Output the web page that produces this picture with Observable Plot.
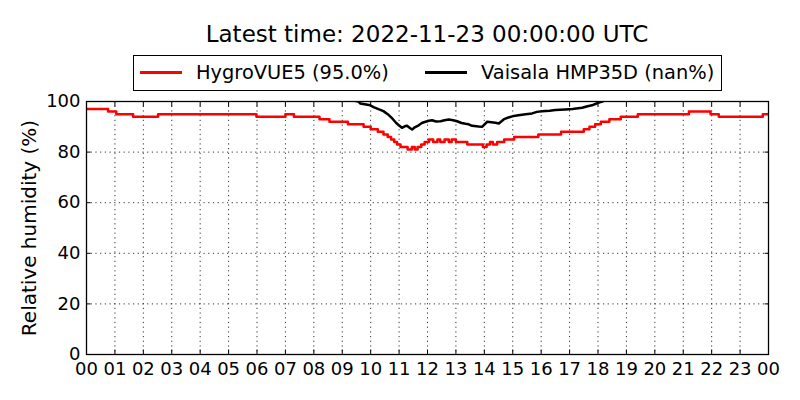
<!DOCTYPE html>
<html>
<head>
<meta charset="utf-8">
<script src="https://cdn.jsdelivr.net/npm/d3@7"></script>
<script src="https://cdn.jsdelivr.net/npm/@observablehq/plot@0.6"></script>
<style>
  html, body { margin: 0; padding: 0; background: #fff; }
  #wrap { position: relative; width: 800px; height: 400px; font-family: "DejaVu Sans", sans-serif; color: #000; }
  #title { position: absolute; left: 86px; width: 682px; top: 23px; text-align: center; font-size: 23px; line-height: 23px; white-space: nowrap; }
  #legend { position: absolute; left: 133px; top: 55px; width: 587px; height: 34px; border: 1px solid #000; background: #fff; box-sizing: content-box; z-index: 2; }
  .lg-line { position: absolute; top: 14.5px; width: 42px; height: 3px; }
  .lg-text { position: absolute; top: 6.5px; font-size: 19.4px; line-height: 19.4px; white-space: nowrap; }
  #ylabel { position: absolute; left: -121px; top: 217.5px; width: 300px; height: 20px; line-height: 20px; font-size: 20px; text-align: center; transform: rotate(-90deg); white-space: nowrap; }
  #chart { position: absolute; left: 0; top: 0; }
</style>
</head>
<body>
<div id="wrap">
  <div id="chart"></div>
  <div id="title"></div>
  <div id="legend"></div>
  <div id="ylabel"></div>
</div>
<script>
// ---- data ----
const titleText = "Latest time: 2022-11-23 00:00:00 UTC";
const yLabel = "Relative humidity (%)";
const seriesNames = ["HygroVUE5 (95.0%)", "Vaisala HMP35D (nan%)"];
const seriesColors = ["red", "black"];
const hourTicks = d3.range(0, 25);
const yTicks = [0, 20, 40, 60, 80, 100];

// HygroVUE5: [hour, RH] change points (stepped)
const hygro = [
  [0, 97], [0.76, 96], [1.05, 95], [1.64, 94], [2.52, 95], [5.98, 94], [7.0, 95], [7.3, 94],
  [8.2, 93], [8.55, 92], [9.2, 91], [9.75, 90], [10.0, 89], [10.25, 88], [10.45, 87],
  [10.6, 86], [10.72, 85], [10.83, 84], [10.93, 83], [11.05, 82], [11.3, 81], [11.45, 82],
  [11.55, 81], [11.65, 82], [11.78, 83], [11.9, 84], [12.05, 85], [12.2, 84], [12.35, 85],
  [12.45, 84], [12.6, 85], [12.75, 84], [12.85, 85], [13.0, 84], [13.4, 83], [13.95, 82],
  [14.08, 83], [14.2, 84], [14.3, 83], [14.45, 84], [14.7, 85], [15.05, 86], [15.9, 87],
  [16.7, 88], [17.5, 89], [17.7, 90], [17.9, 91], [18.1, 92], [18.4, 93], [18.8, 94],
  [19.4, 95], [21.2, 96], [21.96, 95], [22.25, 94], [23.8, 95], [24, 95]
];

// Vaisala HMP35D: [hour, RH] (values above 100 are clipped by the axes)
const vaisala = [
  [9.3, 100.6], [9.57, 100], [9.64, 99.2], [9.99, 98.5], [10.1, 97.8], [10.23, 97.2],
  [10.45, 96.2], [10.6, 95], [10.76, 93.3], [10.9, 91.5], [10.99, 90.6], [11.1, 89.6],
  [11.2, 90.2], [11.28, 90.4], [11.38, 89.5], [11.46, 88.9], [11.55, 89.8], [11.69, 90.6],
  [11.8, 91.5], [11.93, 92], [12.05, 92.4], [12.16, 92.6], [12.3, 92.1], [12.46, 92.2],
  [12.6, 92.6], [12.75, 92.9], [12.9, 92.6], [13.04, 92.2], [13.2, 91.5], [13.34, 91.2],
  [13.45, 91], [13.57, 90.4], [13.8, 90.1], [13.92, 90], [14.1, 92], [14.25, 91.8],
  [14.39, 91.6], [14.51, 91.3], [14.68, 92.9], [14.85, 93.7], [15.04, 94.3], [15.2, 94.6],
  [15.39, 94.9], [15.68, 95.3], [15.85, 95.9], [16.03, 96.1], [16.3, 96.3], [16.5, 96.6],
  [16.85, 96.8], [17.1, 97], [17.44, 97.5], [17.6, 98], [17.79, 98.5], [18.03, 99.6],
  [18.15, 100], [18.3, 100.8]
];

const hh = d => String(d % 24).padStart(2, "0");
const blank = () => "";

const chart = Plot.plot({
  width: 800,
  height: 400,
  marginLeft: 86,
  marginRight: 32,
  marginTop: 101,
  marginBottom: 46,
  style: { fontFamily: "DejaVu Sans", fontSize: "18px", background: "transparent", color: "#000" },
  x: { domain: [0, 24] },
  y: { domain: [0, 100] },
  marks: [
    Plot.gridX(hourTicks, { stroke: "#000", strokeOpacity: 1, strokeWidth: 0.8, strokeDasharray: "1.2,3.5" }),
    Plot.gridY(yTicks, { stroke: "#000", strokeOpacity: 1, strokeWidth: 0.8, strokeDasharray: "1.2,3.5" }),
    Plot.line(hygro, { x: d => d[0], y: d => d[1], curve: "step-after", stroke: seriesColors[0], strokeWidth: 2.5, clip: true }),
    Plot.line(vaisala, { x: d => d[0], y: d => d[1], stroke: seriesColors[1], strokeWidth: 2.5, clip: true }),
    Plot.axisX({ ticks: hourTicks, anchor: "bottom", tickSize: 0, tickPadding: 7.5, tickFormat: hh, label: null }),
    Plot.axisX({ ticks: hourTicks, anchor: "bottom", tickSize: -4.5, tickFormat: blank, label: null }),
    Plot.axisX({ ticks: hourTicks, anchor: "top", tickSize: -4.5, tickFormat: blank, label: null }),
    Plot.axisY({ ticks: yTicks, anchor: "left", tickSize: 0, tickPadding: 6, label: null }),
    Plot.axisY({ ticks: yTicks, anchor: "left", tickSize: -4.5, tickFormat: blank, label: null }),
    Plot.axisY({ ticks: yTicks, anchor: "right", tickSize: -4.5, tickFormat: blank, label: null }),
    Plot.frame({ stroke: "#000", strokeWidth: 1.3 })
  ]
});
document.getElementById("chart").appendChild(chart);

document.getElementById("title").textContent = titleText;
document.getElementById("ylabel").textContent = yLabel;

const legend = document.getElementById("legend");
const lineLefts = [6, 291];
const textLefts = [62, 347];
seriesNames.forEach((name, i) => {
  const ln = document.createElement("div");
  ln.className = "lg-line";
  ln.style.left = lineLefts[i] + "px";
  ln.style.background = seriesColors[i];
  legend.appendChild(ln);
  const tx = document.createElement("div");
  tx.className = "lg-text";
  tx.style.left = textLefts[i] + "px";
  tx.textContent = name;
  legend.appendChild(tx);
});
</script>
</body>
</html>
